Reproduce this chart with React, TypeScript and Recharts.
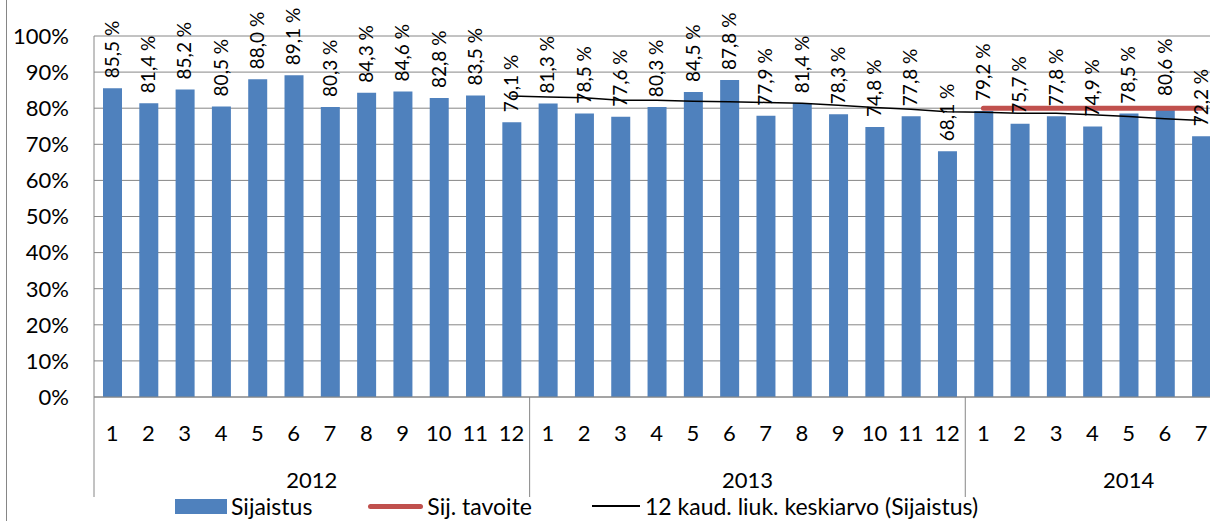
import React from 'react';
import {
  ComposedChart,
  Bar,
  Line,
  XAxis,
  YAxis,
  CartesianGrid,
  Legend,
  LabelList,
} from 'recharts';

const years = ['2012', '2013', '2014'];
// the 2014 group runs past the right edge of the picture (months 8-9 still empty)
const monthsPerYear = [12, 12, 9];

const sijaistus2012 = [85.5, 81.4, 85.2, 80.5, 88.0, 89.1, 80.3, 84.3, 84.6, 82.8, 83.5, 76.1];
const sijaistus2013 = [81.3, 78.5, 77.6, 80.3, 84.5, 87.8, 77.9, 81.4, 78.3, 74.8, 77.8, 68.1];
const sijaistus2014 = [79.2, 75.7, 77.8, 74.9, 78.5, 80.6, 72.2];

const tavoite2014 = [80, 80, 80, 80, 80, 80, 80];

// 12 kaud. liukuva keskiarvo, from 2012/12 onwards
const liukuva = [
  83.4, 83.1, 82.9, 82.2, 82.2, 81.9, 81.8, 81.6, 81.4, 80.8,
  80.2, 79.7, 79.0, 78.9, 78.6, 78.6, 78.2, 77.7, 77.1, 76.6,
];

const yTicks = [0, 10, 20, 30, 40, 50, 60, 70, 80, 90, 100];

const FONT = 'Lato, "Open Sans", sans-serif';
const BLUE = '#4F81BD';
const RED = '#C0504D';
const GRID = '#868686';

const CHART_W = 1300;
const CHART_H = 521;
const Y_W = 94;
const M_RIGHT = 8;

type Row = {
  key: string;
  month: number;
  year: string;
  groupSize: number;
  value: number | null;
  target: number | null;
  ma: number | null;
};

const values = [...sijaistus2012, ...sijaistus2013, ...sijaistus2014];
const data: Row[] = [];
let idx = 0;
years.forEach((year, yi) => {
  for (let m = 1; m <= monthsPerYear[yi]; m++) {
    data.push({
      key: `${year}-${m}`,
      month: m,
      year,
      groupSize: monthsPerYear[yi],
      value: values[idx] ?? null,
      target: year === '2014' && m <= tavoite2014.length ? tavoite2014[m - 1] : null,
      ma: idx >= 11 && idx - 11 < liukuva.length ? liukuva[idx - 11] : null,
    });
    idx++;
  }
});

const BAND = (CHART_W - Y_W - M_RIGHT) / data.length;

const MonthTick = (props: any) => {
  const { x, y, payload } = props;
  const row = data[payload.index];
  if (!row) return null;
  const half = BAND / 2;
  return (
    <g>
      <text x={x} y={y + 35} textAnchor="middle" dominantBaseline="central" fontSize={22} fontFamily={FONT} fill="#000">
        {row.month}
      </text>
      {row.month === 1 && (
        <>
          <line x1={x - half} x2={x - half} y1={y} y2={y + 100} stroke={GRID} />
          <text
            x={x - half + (row.groupSize * BAND) / 2}
            y={y + 82}
            textAnchor="middle"
            dominantBaseline="central"
            fontSize={22}
            fontFamily={FONT}
            fill="#000"
          >
            {row.year}
          </text>
        </>
      )}
    </g>
  );
};

const ValueLabel = (props: any) => {
  const { x, y, value } = props;
  if (value == null) return null;
  const ty = y - 10;
  return (
    <text
      x={x}
      y={ty}
      dy="0.35em"
      transform={`rotate(-90 ${x} ${ty})`}
      textAnchor="start"
      fontSize={19}
      fontFamily={FONT}
      fill="#000"
    >
      {`${Number(value).toFixed(1).replace('.', ',')} %`}
    </text>
  );
};

const LegendContent = () => (
  <div
    style={{
      display: 'flex',
      alignItems: 'center',
      height: 24,
      paddingLeft: 175,
      fontFamily: FONT,
      fontSize: 23,
      lineHeight: '24px',
      color: '#000',
      whiteSpace: 'nowrap',
    }}
  >
    <span style={{ display: 'inline-block', width: 52, height: 15, background: BLUE, marginRight: 4 }} />
    <span style={{ marginRight: 56 }}>Sijaistus</span>
    <span style={{ display: 'inline-block', width: 55, height: 5, borderRadius: 3, background: RED, marginRight: 4 }} />
    <span style={{ marginRight: 60 }}>Sij. tavoite</span>
    <span style={{ display: 'inline-block', width: 48, height: 1.5, background: '#000', marginRight: 5 }} />
    <span>12 kaud. liuk. keskiarvo (Sijaistus)</span>
  </div>
);

export default function App() {
  return (
    <div
      style={{
        position: 'absolute',
        left: 0,
        top: 0,
        width: 1210,
        height: 521,
        overflow: 'hidden',
        background: '#fff',
      }}
    >
      <div style={{ position: 'absolute', left: 6, top: 0, width: 1, height: 521, background: GRID }} />
      <ComposedChart
        width={CHART_W}
        height={CHART_H}
        data={data}
        margin={{ top: 36, right: M_RIGHT, left: 0, bottom: 0 }}
      >
        <CartesianGrid vertical={false} stroke={GRID} />
        <XAxis
          dataKey="key"
          interval={0}
          tickLine={false}
          tickSize={0}
          tickMargin={0}
          axisLine={{ stroke: GRID }}
          height={100}
          tick={<MonthTick />}
        />
        <YAxis
          width={Y_W}
          domain={[0, 100]}
          ticks={yTicks}
          tickFormatter={(v) => `${v}%`}
          tickLine={false}
          tickSize={0}
          tickMargin={25}
          axisLine={{ stroke: GRID }}
          tick={{ fontSize: 22, fill: '#000', fontFamily: FONT }}
        />
        <Legend
          verticalAlign="bottom"
          align="left"
          height={24}
          wrapperStyle={{ bottom: 3 }}
          content={<LegendContent />}
        />
        <Bar dataKey="value" name="Sijaistus" fill={BLUE} barSize={19} isAnimationActive={false} />
        <Line
          dataKey="target"
          name="Sij. tavoite"
          stroke={RED}
          strokeWidth={5}
          strokeLinecap="round"
          dot={false}
          activeDot={false}
          isAnimationActive={false}
        />
        <Line
          dataKey="ma"
          name="12 kaud. liuk. keskiarvo (Sijaistus)"
          stroke="#000"
          strokeWidth={1.5}
          dot={false}
          activeDot={false}
          isAnimationActive={false}
        />
        <Line
          dataKey="value"
          stroke="none"
          dot={false}
          activeDot={false}
          legendType="none"
          isAnimationActive={false}
        >
          <LabelList dataKey="value" content={<ValueLabel />} />
        </Line>
      </ComposedChart>
    </div>
  );
}
